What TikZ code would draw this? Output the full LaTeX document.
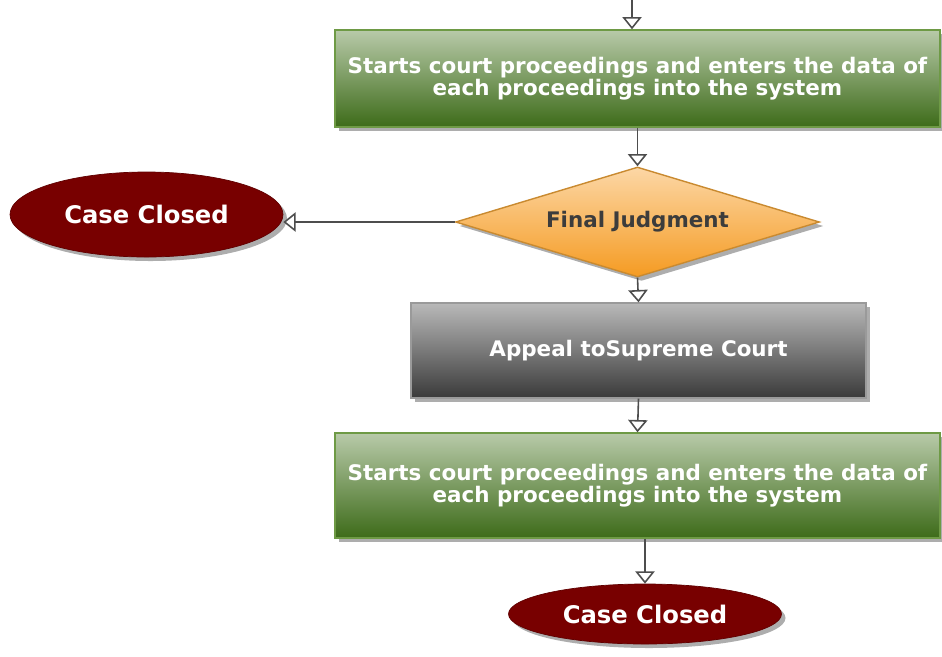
\documentclass[tikz,border=0pt]{standalone}
\usepackage{fontspec}
\setmainfont{DejaVu Sans}
\usetikzlibrary{shapes.geometric}
\usetikzlibrary{shadows}
\usetikzlibrary{arrows.meta}
\usetikzlibrary{math}

\definecolor{GreenTop}{HTML}{B8CAA9}
\definecolor{GreenBottom}{HTML}{3D6B19}
\definecolor{GreenLine}{HTML}{6E9A45}
\definecolor{GreyTop}{HTML}{B9B9B9}
\definecolor{GreyBottom}{HTML}{3A3A3A}
\definecolor{GreyLine}{HTML}{9A9A9A}
\definecolor{OrangeTop}{HTML}{FCD7A6}
\definecolor{OrangeBottom}{HTML}{F59B22}
\definecolor{OrangeLine}{HTML}{C98A30}
\definecolor{CaseRed}{HTML}{780000}
\definecolor{ArrowGrey}{HTML}{4D4D4D}
\definecolor{TextGrey}{HTML}{3C3C3C}

\begin{document}
\begin{tikzpicture}[
    boxtext/.style={font=\bfseries\fontsize{12.2}{12.8}\selectfont, text=white, align=center},
    shade/.style={drop shadow={shadow xshift=0.08cm, shadow yshift=-0.08cm, fill=black!32, opacity=1}},
    greenbox/.style={boxtext, rectangle, shade, draw=GreenLine, line width=0.8pt,
        top color=GreenTop, bottom color=GreenBottom},
    greybox/.style={boxtext, rectangle, shade, draw=GreyLine, line width=0.8pt,
        top color=GreyTop, bottom color=GreyBottom},
    decision/.style={boxtext, diamond, shade, draw=OrangeLine, line width=0.8pt, text=TextGrey,
        top color=OrangeTop, bottom color=OrangeBottom, inner sep=0pt, aspect=3.3},
    closed/.style={boxtext, ellipse, shade, fill=CaseRed, draw=CaseRed!80!black,
        font=\bfseries\fontsize{13.8}{15}\selectfont},
    flowarrow/.style={draw=ArrowGrey, line width=0.9pt,
        -{Triangle[fill=white, length=7pt, width=11pt]}},
]

% Position settings
\tikzmath{
    \MidX = 12.75;
    \BoxWidth = 12.1;
}

\useasboundingbox (0,0) rectangle (18.84,-13.12);

% Nodes
\node [greenbox, minimum width=\BoxWidth cm, minimum height=1.94cm] (start1) at (\MidX, -1.57)
    {Starts court proceedings and enters the data of\\each proceedings into the system};
\node [decision, minimum width=7.28cm, minimum height=2.2cm] (judgment) at (\MidX, -4.44)
    {Final Judgment};
\node [closed, minimum width=5.46cm, minimum height=1.7cm] (closed1) at (2.93, -4.29)
    {Case Closed};
\node [greybox, minimum width=9.1cm, minimum height=1.9cm] (appeal) at (12.77, -7.01)
    {Appeal toSupreme Court};
\node [greenbox, minimum width=\BoxWidth cm, minimum height=2.1cm] (start2) at (\MidX, -9.71)
    {Starts court proceedings and enters the data of\\each proceedings into the system};
\node [closed, minimum width=5.46cm, minimum height=1.2cm] (closed2) at (12.9, -12.28)
    {Case Closed};

\coordinate (entry) at (12.64, 0);

% Connectors
\draw [flowarrow] (entry) -- (entry |- start1.north);
\draw [flowarrow] (start1.south) -- (judgment.north);
\draw [flowarrow] (judgment.west) -- (judgment.west -| closed1.east);
\draw [flowarrow] (judgment.south) -- (appeal.north);
\draw [flowarrow] (appeal.south) -- (start2.north);
\draw [flowarrow] (start2.south -| closed2.north) -- (closed2.north);

\end{tikzpicture}
\end{document}
